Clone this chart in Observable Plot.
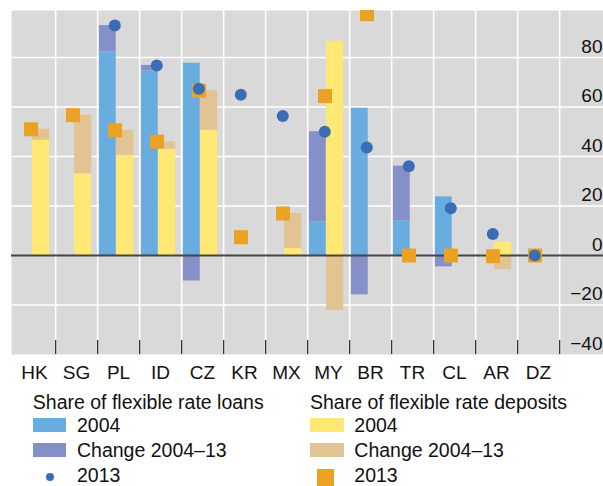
<!DOCTYPE html>
<html><head><meta charset="utf-8">
<script src="https://cdn.jsdelivr.net/npm/d3@7"></script>
<script src="https://cdn.jsdelivr.net/npm/@observablehq/plot@0.6"></script>
<style>
body{margin:0;background:#fff;font-family:"Liberation Sans",Arial,sans-serif;}
#chart svg{display:block;}
#legend{position:relative;width:603px;height:101px;font-size:19.5px;color:#111;overflow:hidden;}
#legend .t{position:absolute;line-height:19px;white-space:nowrap;}
#legend .sw{position:absolute;}
</style></head><body>
<div id="chart"></div>
<div id="legend"></div>
<script>
// ---- data ----
const categories = ["HK","SG","PL","ID","CZ","KR","MX","MY","BR","TR","CL","AR","DZ"];
const loans2004    = [null, null, 82.3, 74.6, 77.7, null, null, 13.6, 59.5, 13.9, 23.7, null, null];
const loans2013    = [null, null, 92.9, 76.8, 67.4, 65.0, 56.4, 50.0, 43.6, 36.1, 19.1, 8.7, 0];
const deposits2004 = [46.6, 33.0, 40.5, 42.9, 50.6, null, 2.9, 86.6, null, null, null, 5.4, null];
const deposits2013 = [51.0, 56.7, 50.6, 46.0, 66.6, 7.4, 17.0, 64.4, 97.5, 0, 0, -0.3, 0];
const yTicks = [-40, -20, 0, 20, 40, 60, 80];
const yTickLabels = ["−40", "−20", "0", "20", "40", "60", "80"];
const legendLoans = ["Share of flexible rate loans", "2004", "Change 2004–13", "2013"];
const legendDeposits = ["Share of flexible rate deposits", "2004", "Change 2004–13", "2013"];

const C = {
  bg: "#d9d9d9", loan04: "#69ade0", loanChg: "#8490c7", loan13: "#3a6db3",
  dep04: "#ffe873", depChg: "#e2c392", dep13: "#eba224", zero: "#454545", tick: "#333"
};

// ---- tables ----
const rows = categories.map((c, i) => ({c, l04: loans2004[i], l13: loans2013[i], d04: deposits2004[i], d13: deposits2013[i]}));
function changeRows(a, b) {
  return rows.filter(r => r[a] != null && r[b] != null).map(r => {
    const ch = r[b] - r[a];
    return {c: r.c, y1: ch > 0 ? r[a] : 0, y2: ch > 0 ? r[b] : ch};
  });
}
const loanChg = changeRows("l04", "l13");
const depChg = changeRows("d04", "d13");

// ---- layout ----
const W = 603, H = 385, mL = 11, mT = 10, mB = 31, xEnd = 560.25;
const bw = (xEnd - mL) / categories.length;
const plotH = H - mT - mB;

const chart = Plot.plot({
  width: W, height: H,
  marginLeft: mL, marginRight: 0, marginTop: mT, marginBottom: mB,
  style: {fontSize: "19px", fontFamily: "'Liberation Sans', Arial, sans-serif", color: "#111", background: "white"},
  x: {domain: categories, range: [mL, xEnd], padding: 0, tickSize: 0, tickPadding: 11, label: null},
  y: {domain: [-40, 99], axis: null},
  marks: [
    Plot.frame({fill: C.bg, stroke: null}),
    Plot.ruleY(yTicks.filter(t => t !== 0 && t !== -40), {stroke: "white", strokeWidth: 1.6}),
    Plot.ruleX(categories, {x: d => d, dx: bw / 2, stroke: "white", strokeWidth: 1.6}),
    Plot.barY(rows.filter(r => r.l04 != null), {x: "c", y1: 0, y2: "l04", fill: C.loan04, insetLeft: 2, insetRight: bw - 19}),
    Plot.barY(loanChg, {x: "c", y1: "y1", y2: "y2", fill: C.loanChg, insetLeft: 2, insetRight: bw - 19}),
    Plot.barY(rows.filter(r => r.d04 != null), {x: "c", y1: 0, y2: "d04", fill: C.dep04, insetLeft: 19, insetRight: bw - 36.5}),
    Plot.barY(depChg, {x: "c", y1: "y1", y2: "y2", fill: C.depChg, insetLeft: 19, insetRight: bw - 36.5}),
    Plot.ruleY([0], {stroke: C.zero, strokeWidth: 2}),
    Plot.ruleX(categories, {x: d => d, dx: bw / 2, insetTop: plotH - 14, stroke: C.tick, strokeWidth: 1.3}),
    Plot.dot(rows.filter(r => r.d13 != null), {x: "c", y: "d13", symbol: "square", r: 7.9, fill: C.dep13, stroke: null, dx: -3.5, clip: true}),
    Plot.dot(rows.filter(r => r.l13 != null), {x: "c", y: "l13", r: 6, fill: C.loan13, stroke: null, dx: -3.7, clip: true}),
    Plot.text(yTicks, {y: d => d, text: (d, i) => yTickLabels[i], frameAnchor: "right", textAnchor: "end", lineAnchor: "middle", dy: -11, dx: -1, fontSize: 19, fill: "#111"})
  ]
});
document.getElementById("chart").appendChild(chart);

// ---- legend (HTML, below the SVG) ----
const leg = document.getElementById("legend");
function add(cls, style, text) {
  const d = document.createElement("div");
  d.className = cls;
  Object.assign(d.style, style);
  if (text != null) d.textContent = text;
  leg.appendChild(d);
}
const cols = [
  {labels: legendLoans, swX: 32.8, tX: 77, fills: [C.loan04, C.loanChg], marker: "circle", mColor: C.loan13},
  {labels: legendDeposits, swX: 310, tX: 354.3, fills: [C.dep04, C.depChg], marker: "square", mColor: C.dep13}
];
const baselines = [24.5, 47, 72.5, 97];
cols.forEach(col => {
  add("t", {left: col.swX + "px", top: (baselines[0] - 16.3) + "px"}, col.labels[0]);
  for (let k = 1; k <= 3; k++) {
    add("t", {left: col.tX + "px", top: (baselines[k] - 16.3) + "px"}, col.labels[k]);
  }
  col.fills.forEach((f, k) => {
    add("sw", {left: col.swX + "px", top: (baselines[k + 1] - 14.4) + "px", width: "33.6px", height: "14.4px", background: f});
  });
  if (col.marker === "circle") {
    add("sw", {left: (col.swX + 16.8 - 4) + "px", top: (baselines[3] - 5.5 - 4) + "px", width: "8px", height: "8px", borderRadius: "50%", background: col.mColor});
  } else {
    add("sw", {left: (col.swX + 6.7) + "px", top: (baselines[3] - 13.5) + "px", width: "17px", height: "17px", background: col.mColor});
  }
});
</script>
</body></html>
